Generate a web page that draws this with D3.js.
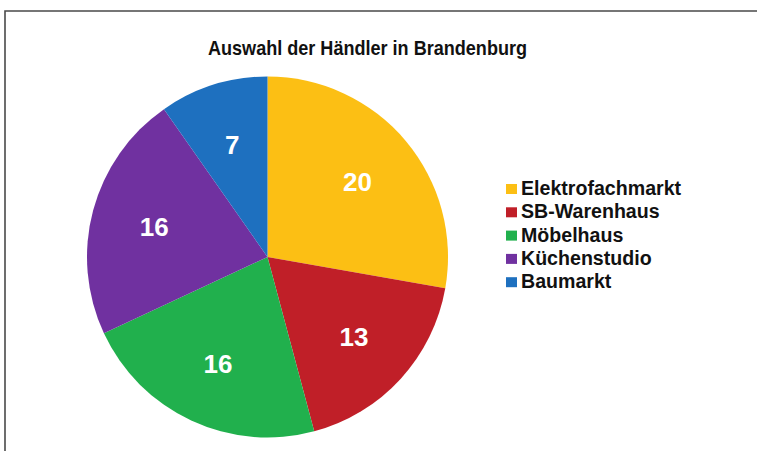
<!DOCTYPE html>
<html>
<head>
<meta charset="utf-8">
<script src="https://cdn.jsdelivr.net/npm/d3@7"></script>
<style>
  html, body { margin: 0; padding: 0; background: #fff; }
  svg { display: block; }
</style>
</head>
<body>
<svg id="chart" width="758" height="451"></svg>
<script>
const title = "Auswahl der Händler in Brandenburg";
const categories = ["Elektrofachmarkt", "SB-Warenhaus", "Möbelhaus", "Küchenstudio", "Baumarkt"];
const values = [20, 13, 16, 16, 7];
const colors = ["#FCBF14", "#C01F28", "#21B04D", "#7031A0", "#1E70BF"];

const svg = d3.select("#chart");
const W = 758, H = 451;

// frame
svg.append("path")
  .attr("d", `M5,${H + 2} L5,11 L${W - 1},11`)
  .attr("fill", "none")
  .attr("stroke", "#4a4a4a")
  .attr("stroke-width", 1.6);

// title
svg.append("text")
  .attr("x", 367.5).attr("y", 55)
  .attr("text-anchor", "middle")
  .attr("font-family", "Liberation Sans, Arial, sans-serif")
  .attr("font-weight", "bold")
  .attr("font-size", 20.5)
  .attr("textLength", 319)
  .attr("lengthAdjust", "spacingAndGlyphs")
  .attr("fill", "#111")
  .text(title);

const cx = 267.5, cy = 257, r = 180.5;
const data = categories.map((c, i) => ({ cat: c, value: values[i], color: colors[i] }));
const pie = d3.pie().value(d => d.value).sort(null);
const arc = d3.arc().innerRadius(0).outerRadius(r);
const labelArc = d3.arc().innerRadius(r * 0.65).outerRadius(r * 0.65);

const g = svg.append("g").attr("transform", `translate(${cx},${cy})`);
const arcs = pie(data);
g.selectAll("path.slice").data(arcs).join("path")
  .attr("class", "slice")
  .attr("d", arc)
  .attr("fill", d => d.data.color);

g.selectAll("text.lbl").data(arcs).join("text")
  .attr("class", "lbl")
  .attr("transform", d => `translate(${labelArc.centroid(d)})`)
  .attr("text-anchor", "middle")
  .attr("dy", "0.36em")
  .attr("font-family", "Liberation Sans, Arial, sans-serif")
  .attr("font-weight", "bold")
  .attr("font-size", 26)
  .attr("fill", "#fff")
  .text(d => d.data.value);

// legend
const lx = 506, ly0 = 195, step = 23.3;
const lg = svg.append("g");
const rows = lg.selectAll("g").data(data).join("g")
  .attr("transform", (d, i) => `translate(${lx},${ly0 + i * step})`);
rows.append("rect")
  .attr("x", 0).attr("y", -11)
  .attr("width", 11).attr("height", 10)
  .attr("fill", d => d.color);
rows.append("text")
  .attr("x", 15).attr("y", 0)
  .attr("font-family", "Liberation Sans, Arial, sans-serif")
  .attr("font-weight", "bold")
  .attr("font-size", 19.6)
  .attr("fill", "#111")
  .text(d => d.cat);
</script>
</body>
</html>
